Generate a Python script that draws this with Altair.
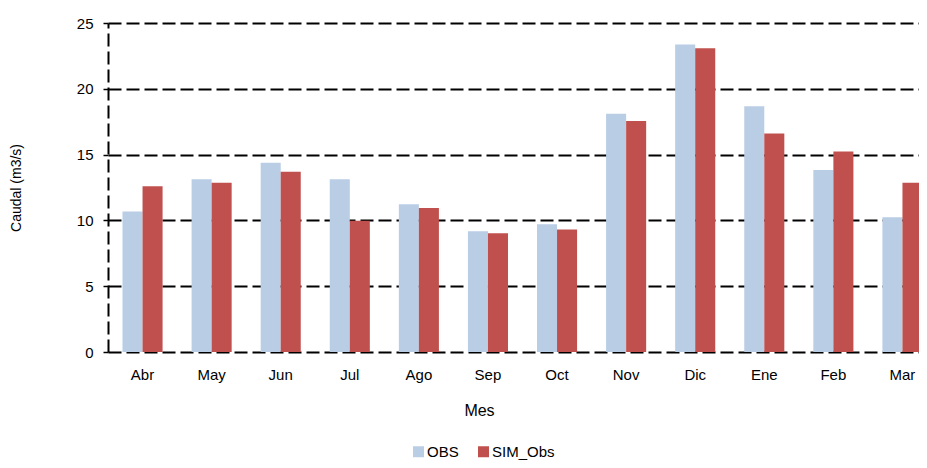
import altair as alt
import pandas as pd

months = ["Abr", "May", "Jun", "Jul", "Ago", "Sep", "Oct", "Nov", "Dic", "Ene", "Feb", "Mar"]
obs = [10.67, 13.12, 14.39, 13.12, 11.22, 9.17, 9.70, 18.11, 23.36, 18.67, 13.83, 10.24]
sim = [12.59, 12.87, 13.70, 9.98, 10.94, 9.02, 9.30, 17.55, 23.08, 16.60, 15.23, 12.87]
series = ["OBS", "SIM_Obs"]
colors = ["#B9CDE5", "#C0504D"]

rows = []
for m, o, s in zip(months, obs, sim):
    rows.append({"Mes": m, "Serie": series[0], "Caudal": o})
    rows.append({"Mes": m, "Serie": series[1], "Caudal": s})
df = pd.DataFrame(rows)

font = "Liberation Sans"

chart = alt.Chart(df).mark_bar(clip=True).encode(
    x=alt.X("Mes:N", sort=months,
            scale=alt.Scale(paddingInner=0.42, paddingOuter=0.21, range=[0, 829]),
            axis=alt.Axis(title="Mes", labelAngle=0, domain=False, ticks=False,
                          labelPadding=15, titlePadding=20, grid=False,
                          titleX=371, titleFontSize=16)),
    xOffset=alt.XOffset("Serie:N", sort=series),
    y=alt.Y("Caudal:Q", scale=alt.Scale(domain=[0, 25]),
            axis=alt.Axis(title="Caudal (m3/s)", values=[0, 5, 10, 15, 20, 25],
                          tickSize=5, tickColor="black", tickWidth=1.5,
                          domainColor="black", domainWidth=2, domainDash=[13, 5],
                          gridColor="black", gridWidth=2, gridDash=[13, 5], gridOpacity=1,
                          labelPadding=10, titlePadding=53, titleFontSize=14)),
    color=alt.Color("Serie:N", sort=series,
                    scale=alt.Scale(domain=series, range=colors),
                    legend=alt.Legend(title=None, orient="none", direction="horizontal",
                                      legendX=303, legendY=421, symbolType="square",
                                      symbolSize=121, symbolStrokeWidth=0, symbolOpacity=1,
                                      labelFontSize=15, labelOffset=1, columnPadding=17,
                                      labelFont=font, labelColor="black")),
).properties(
    width=811, height=329,
    autosize=alt.AutoSizeParams(type="none"),
    padding={"left": 100, "top": 15, "right": 0, "bottom": 108},
).configure_view(
    stroke=None
).configure_axis(
    labelFont=font, titleFont=font, labelFontSize=15,
    labelColor="black", titleColor="black", titleFontWeight="normal"
)

chart.save("out.html", embed_options={"renderer": "svg", "actions": False})
